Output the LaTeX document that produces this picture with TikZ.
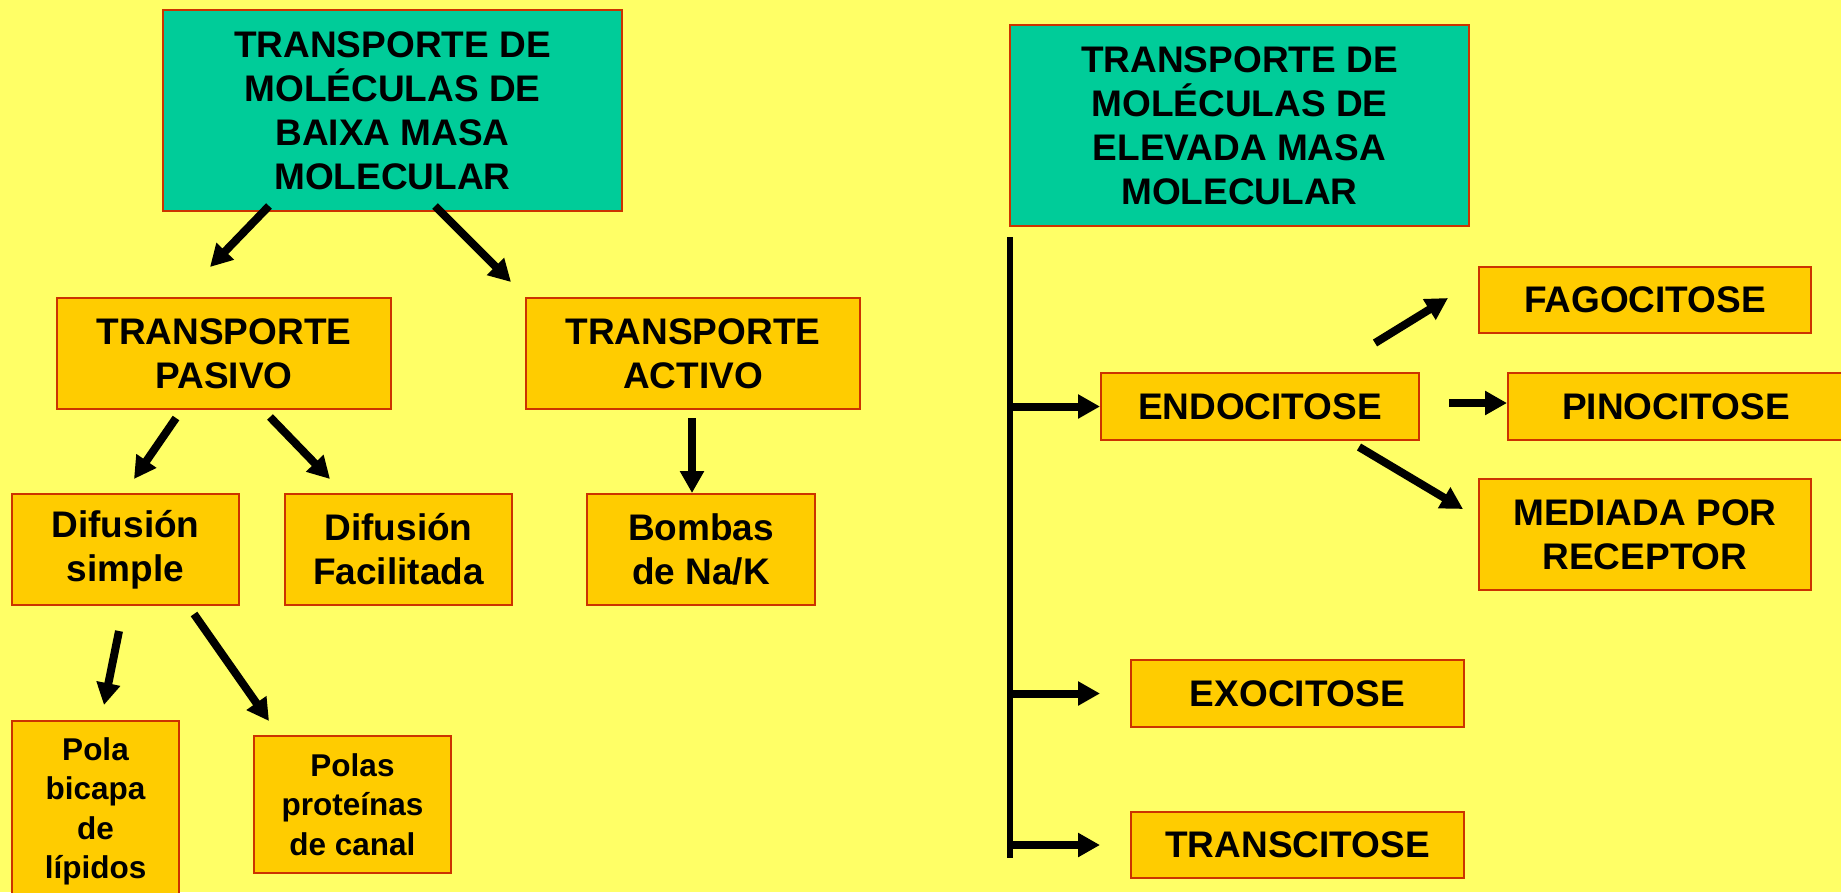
\documentclass[tikz,border=0pt]{standalone}
\usepackage{fontspec}
\setmainfont{Liberation Sans}
\usetikzlibrary{arrows.meta}
\definecolor{fondo}{RGB}{255,255,102}
\definecolor{verde}{RGB}{0,204,153}
\definecolor{laranxa}{RGB}{255,204,0}
\definecolor{bordo}{RGB}{204,51,0}

\begin{document}
\begin{tikzpicture}[x=1pt, y=-1pt,
        box/.style={draw=bordo, line width=2pt, fill=laranxa, inner sep=0pt, align=center,
            font=\fontsize{37}{44}\selectfont\bfseries},
        headbox/.style={box, fill=verde, minimum width=459pt, minimum height=201pt},
        smallbox/.style={box, font=\fontsize{31.5}{39.5}\selectfont\bfseries},
        arr/.style={line width=8pt, -{Triangle[length=22pt, width=23pt]}}]
        \useasboundingbox (0, 0) rectangle (1841, 892);
        \fill[fondo] (0, 0) rectangle (1841, 892);

        % baixa masa molecular
        \node[headbox] at (392.5, 110.5) (baixa) {TRANSPORTE DE\\MOLÉCULAS DE\\BAIXA MASA\\MOLECULAR};
        \node[box, minimum width=334pt, minimum height=111pt] at (224, 353.5) (pasivo) {TRANSPORTE\\PASIVO};
        \node[box, minimum width=334pt, minimum height=111pt] at (693, 353.5) (activo) {TRANSPORTE\\ACTIVO};
        \node[box, minimum width=227pt, minimum height=111pt] at (125.5, 549.5) (simple) {Difusión\\simple};
        \node[box, minimum width=227pt, minimum height=111pt] at (398.5, 549.5) (facil) {Difusión\\Facilitada};
        \node[box, minimum width=228pt, minimum height=111pt] at (701, 549.5) (bombas) {Bombas\\de Na/K};
        \node[smallbox, minimum width=167pt, minimum height=181pt] at (95.5, 811.5) (bicapa) {Pola\\bicapa\\de\\lípidos};
        \node[smallbox, minimum width=197pt, minimum height=137pt] at (352.5, 804.5) (proteinas) {Polas\\proteínas\\de canal};

        \coordinate (baixaOutL) at (269, 206);
        \coordinate (pasivoIn) at (210, 267);
        \coordinate (baixaOutR) at (435, 206);
        \coordinate (activoIn) at (511, 282);
        \coordinate (pasivoOutL) at (176, 418);
        \coordinate (simpleIn) at (134, 479);
        \coordinate (pasivoOutR) at (270, 417);
        \coordinate (facilIn) at (330, 479);
        \coordinate (activoOut) at (692, 418);
        \coordinate (simpleOutL) at (119, 631);
        \coordinate (bicapaIn) at (104, 705);
        \coordinate (simpleOutR) at (194, 614);
        \coordinate (proteinasIn) at (269, 721);

        \draw[arr] (baixaOutL) -- (pasivoIn);
        \draw[arr] (baixaOutR) -- (activoIn);
        \draw[arr] (pasivoOutL) -- (simpleIn);
        \draw[arr] (pasivoOutR) -- (facilIn);
        \draw[arr] (activoOut) -- (activoOut |- bombas.north);
        \draw[arr] (simpleOutL) -- (bicapaIn);
        \draw[arr] (simpleOutR) -- (proteinasIn);

        % elevada masa molecular
        \node[headbox] at (1239.5, 125.5) (elevada) {TRANSPORTE DE\\MOLÉCULAS DE\\ELEVADA MASA\\MOLECULAR};
        \node[box, minimum width=318pt, minimum height=67pt] at (1260, 406.5) (endo) {ENDOCITOSE};
        \node[box, minimum width=332pt, minimum height=66pt] at (1645, 300) (fago) {FAGOCITOSE};
        \node[box, minimum width=336pt, minimum height=67pt] at (1676, 406.5) (pino) {PINOCITOSE};
        \node[box, minimum width=332pt, minimum height=111pt] at (1645, 534.5) (mediada) {MEDIADA POR\\RECEPTOR};
        \node[box, minimum width=333pt, minimum height=67pt] at (1297.5, 693.5) (exo) {EXOCITOSE};
        \node[box, minimum width=333pt, minimum height=66pt] at (1297.5, 845) (trans) {TRANSCITOSE};

        \coordinate (spineTop) at (1010, 237);
        \coordinate (spineBot) at (1010, 858);
        \coordinate (endoOutU) at (1375, 343);
        \coordinate (fagoIn) at (1448, 298);
        \coordinate (endoOutR) at (1449, 403);
        \coordinate (endoOutD) at (1359, 447);
        \coordinate (mediadaIn) at (1463, 509);

        \draw[line width=6pt] (spineTop) -- (spineBot);
        \draw[arr] (spineTop |- endo.west) -- (endo.west);
        \draw[arr] (spineTop |- exo.west) -- (endo.west |- exo.west);
        \draw[arr] (spineTop |- trans.west) -- (endo.west |- trans.west);
        \draw[arr] (endoOutU) -- (fagoIn);
        \draw[arr] (endoOutR) -- (endoOutR -| pino.west);
        \draw[arr] (endoOutD) -- (mediadaIn);
\end{tikzpicture}
\end{document}
